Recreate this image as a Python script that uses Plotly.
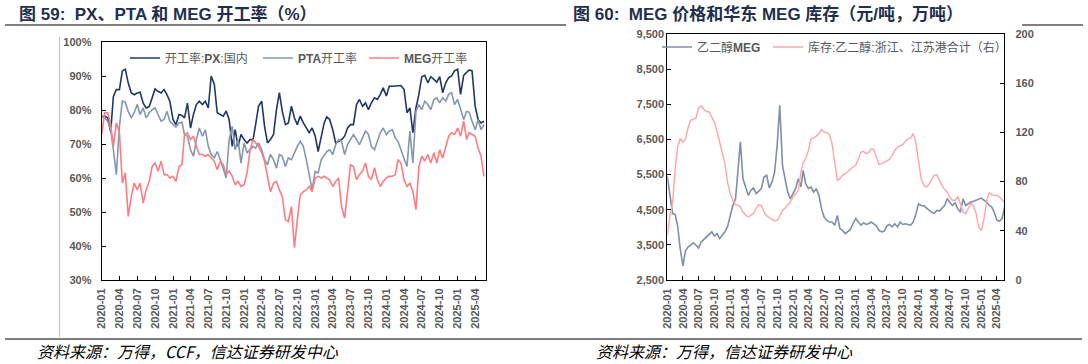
import plotly.graph_objects as go

W, H = 1088, 364

# ---------------- data (semi-monthly readings) ----------------
px_rate = [78, 78.2, 77.7, 73.5, 84, 86, 86, 91.5, 92, 88,
           85, 84.5, 85, 85.2, 82, 80.6, 81, 83.5, 86.2, 85.5,
           85, 86, 84.5, 82.5, 77.2, 75.7, 78.7, 78.4, 77.7, 82,
           74.7, 78.7, 81.6, 82.6, 81.6, 82.6, 80.6, 90, 87.5, 79.2,
           78.7, 78.2, 79.7, 77.2, 69.3, 74.2, 69.3, 72.8, 71.3, 70.3,
           71.3, 71.3, 75.7, 81.1, 82.6, 75.2, 70.3, 71.3, 72.8, 80.1,
           85.1, 79.6, 75.7, 76.2, 81.1, 77.7, 75.7, 78.2, 76.2, 74.7,
           73.3, 74.7, 72.3, 67.8, 72.3, 76.2, 78, 77.2, 74.2, 70.3,
           70.8, 71.3, 72.3, 74.7, 75.7, 75.7, 81.6, 83.1, 81.1, 82.1,
           80.1, 82.1, 83.6, 83.1, 84.6, 86.5, 84.1, 87, 87, 87,
           87.2, 87.2, 86, 79.2, 80.6, 73.3, 80.6, 84.6, 89.8, 90.2,
           88, 89.8, 89, 88.2, 89.8, 85.1, 88, 89.5, 90, 91.5,
           92, 84.6, 90.2, 91, 91.8, 91.5, 81.1, 77.2, 76.2, 76.7]

pta_rate = [78.2, 77.7, 76.7, 74.2, 68.3, 61, 75.2, 82.6, 82.3, 79.6,
            77.7, 79.2, 81.6, 78.7, 80.6, 77.7, 79.2, 80.1, 80.6, 78.7,
            76.7, 77.2, 79.6, 76.7, 75.7, 75, 76.2, 76.4, 72.8, 72.3,
            68.3, 66.4, 71.3, 74.7, 72.3, 74.2, 69.3, 66.9, 65.9, 67.8,
            65.4, 62.4, 60, 71.3, 75.2, 68.3, 71.3, 64.4, 70.3, 67.4,
            68.3, 69.3, 68.8, 70.3, 68.3, 65.4, 63.9, 66.9, 65.4, 62.9,
            66.9, 66.4, 63.4, 65.9, 65.4, 67.4, 69.3, 70.8, 69.3, 65.4,
            60.5, 56.6, 61.9, 61.5, 65.4, 66.9, 67.8, 68.3, 66.9, 69.8,
            71.3, 70.8, 66.9, 69.8, 71.3, 72.8, 71.3, 69.8, 71.8, 73.8,
            72.8, 69.3, 68.3, 70.8, 73.3, 74.7, 72.8, 73.8, 74.2, 71.8,
            70.8, 68.3, 65.4, 63.4, 73.8, 64.4, 79.6, 81.6, 80.1, 82.6,
            81.6, 80.1, 83.1, 83.6, 82.1, 83.6, 82.6, 84.6, 85.1, 81.6,
            83.1, 80.1, 77.2, 79.6, 79.4, 76.7, 74.2, 77.2, 74.2, 75.7]

meg_rate = [72.8, 79.2, 79.2, 75.7, 69.3, 76.2, 73.3, 58.5, 61.5, 48.7,
            54.6, 58.5, 56.5, 58.5, 52.6, 56.5, 59, 63.4, 64.4, 62,
            64.9, 61, 61, 60, 60.5, 59, 63.4, 63.9, 72.8, 73.3,
            71.3, 72.3, 69.3, 66.9, 66.9, 66.4, 66.9, 65.9, 64.9, 62.4,
            64.9, 63.9, 61, 62, 60.5, 58, 59, 57.5, 58, 61.5,
            68.3, 71.3, 70.3, 69.3, 67.4, 64.9, 60.5, 56, 58.5, 59,
            56.5, 54.6, 47.7, 47.2, 51.6, 39.5, 47.7, 55, 56, 56.5,
            57.5, 56, 60, 60.5, 60, 60.5, 60, 59.5, 57.5, 59,
            60, 51.6, 48.2, 55.6, 63.9, 63.4, 59.5, 61, 62, 64.4,
            60.5, 59.5, 63, 59.5, 57.5, 59, 60, 60.5, 60.5, 61,
            65.4, 64.4, 59.5, 57.5, 58.5, 56, 50.7, 63.4, 66.4, 65,
            66.9, 64.4, 67.4, 64.4, 68.3, 65.9, 69.3, 72.3, 73.3, 72.8,
            74.7, 72.3, 76.7, 71.3, 73.3, 72.8, 72.3, 68.8, 66.4, 60.5]

meg_price = [5450, 4900, 4390, 4360, 4050, 3390, 2900, 3340, 3440, 3490,
             3560, 3490, 3410, 3580, 3660, 3720, 3820, 3870, 3750, 3820,
             3680, 3770, 3870, 4010, 4360, 4620, 4810, 5570, 6430, 5380,
             5120, 4910, 5050, 5120, 4960, 5020, 5100, 5430, 5480, 5120,
             5290, 5570, 6330, 7470, 5760, 5380, 5000, 4810, 4960, 5100,
             5380, 5150, 5620, 5240, 5100, 5150, 5000, 5100, 4910, 4530,
             4290, 4200, 4150, 4150, 4060, 4340, 3960, 3910, 3820, 3870,
             3940, 4100, 4250, 4150, 4060, 4130, 4080, 4100, 4150, 4100,
             4040, 3910, 3870, 3890, 4040, 4080, 4010, 4100, 4010, 4150,
             4080, 4100, 4080, 4060, 4150, 4360, 4670, 4620, 4610, 4550,
             4480, 4430, 4390, 4480, 4460, 4530, 4620, 4810, 4720, 4620,
             4700, 4530, 4430, 4810, 4620, 4670, 4720, 4740, 4770, 4810,
             4830, 4770, 4720, 4620, 4580, 4430, 4200, 4170, 4250, 4580]

meg_stock = [36, 52, 63, 90.5, 108, 115, 112, 115, 124, 130,
             130.6, 131.7, 140, 141.5, 138.7, 137, 136.6, 131.7, 128, 121,
             112, 104, 94.6, 79.7, 70, 64.8, 61.2, 60.7, 59.3, 55.3,
             52.6, 51.2, 52.6, 53.9, 58.5, 61.2, 60.7, 55.3, 52, 50.4,
             49.3, 48.2, 48.5, 52, 56.6, 58.5, 61.2, 63.4, 67.5, 70.2,
             72.9, 87.8, 95.4, 98.6, 105.4, 114.9, 115.4, 117, 119, 122.5,
             120.3, 119.8, 118.2, 110.8, 94.6, 81, 82.4, 85.1, 86.4, 88.3,
             90.5, 91.9, 93.2, 98.6, 104, 104.6, 102.7, 103.5, 106.8, 106.2,
             100, 93.8, 94.6, 95.9, 97.3, 98, 101.4, 105.4, 108.1, 109,
             110, 112.7, 114.9, 115.4, 119, 112.2, 97.3, 82.4, 77, 75.6,
             77.5, 81, 85.1, 85.6, 81, 77, 73.7, 71.5, 67.5, 64.8,
             64.8, 67.5, 62.1, 55.3, 53.9, 58.5, 62.1, 60.2, 53.9, 43,
             40.4, 49.9, 64.8, 71, 69.4, 68.8, 68.8, 67.5, 64.8, 62.9]

# semi-monthly date index, 2020-01-01 .. 2025-05-16
dates = [f"{y}-{m:02d}-{d:02d}" for y in range(2020, 2026) for m in range(1, 13) for d in (1, 16)][:len(px_rate)]

left_ticks = [30, 40, 50, 60, 70, 80, 90, 100]
price_ticks = [2500, 3500, 4500, 5500, 6500, 7500, 8500, 9500]
stock_ticks = [0, 40, 80, 120, 160, 200]

names_left = ["开工率:<b>PX</b>:国内", "<b>PTA</b>开工率", "<b>MEG</b>开工率"]
names_right = ["乙二醇<b>MEG</b>", "库存:乙二醇:浙江、江苏港合计（右）"]

# ---------------- style ----------------
C_PX, C_PTA, C_MEG = "#203864", "#8497B0", "#FF7C80"
C_PRICE, C_STOCK = "#7F8FA9", "#FFA5A8"
GRAY = "#595959"
TICKFONT = dict(family="Liberation Sans, Arial, sans-serif", size=11, color=GRAY, weight="bold")
LEGFONT = dict(family="Liberation Sans, Noto Sans CJK SC, sans-serif", size=12, color=GRAY)
CJK = "Noto Sans CJK SC, sans-serif"


def fx(p):
    return p / W


def fy(p):
    return 1 - p / H


L = dict(x0=101.7, x1=485.7, y0=42, y1=280)
R = dict(x0=667.3, x1=1004.3, y0=34, y1=280)

fig = go.Figure()

for ys, col, nm, lg in [(px_rate, C_PX, names_left[0], "legend"),
                        (pta_rate, C_PTA, names_left[1], "legend2"),
                        (meg_rate, C_MEG, names_left[2], "legend3")]:
    fig.add_trace(go.Scatter(x=dates, y=ys, mode="lines", name=nm, legend=lg,
                             line=dict(color=col, width=1.6), xaxis="x", yaxis="y"))

fig.add_trace(go.Scatter(x=dates, y=meg_stock, mode="lines", name=names_right[1], legend="legend5",
                         line=dict(color=C_STOCK, width=1.4), xaxis="x2", yaxis="y3"))
fig.add_trace(go.Scatter(x=dates, y=meg_price, mode="lines", name=names_right[0], legend="legend4",
                         line=dict(color=C_PRICE, width=1.6), xaxis="x2", yaxis="y2"))

xcommon = dict(type="date", tickmode="linear", tick0="2020-01-01", dtick="M3", tickformat="%Y-%m",
               tickangle=-90, ticks="inside", ticklen=4, tickcolor="#000", showline=True,
               linecolor="#000", linewidth=1, mirror=True, showgrid=False, zeroline=False,
               tickfont=TICKFONT, fixedrange=True, automargin=False, ticklabelstandoff=3)
ycommon = dict(ticks="inside", ticklen=4, tickcolor="#000", showline=True, linecolor="#000",
               linewidth=1, showgrid=False, zeroline=False, tickfont=TICKFONT, fixedrange=True,
               automargin=False)

legend_base = dict(orientation="h", xanchor="left", yanchor="middle", bgcolor="rgba(0,0,0,0)",
                   font=LEGFONT, itemwidth=30, borderwidth=0)

fig.update_layout(
    width=W, height=H, autosize=False,
    margin=dict(l=0, r=0, t=0, b=0, pad=0, autoexpand=False),
    paper_bgcolor="white", plot_bgcolor="white",
    xaxis=dict(domain=[fx(L["x0"]), fx(L["x1"])], anchor="y",
               range=["2020-01-01", "2025-05-25"], **xcommon),
    yaxis=dict(domain=[fy(L["y1"]), fy(L["y0"])], anchor="x", range=[30, 100],
               tickmode="array", tickvals=left_ticks, ticktext=[f"{v}%" for v in left_ticks],
               mirror=True, ticklabelstandoff=7, **ycommon),
    xaxis2=dict(domain=[fx(R["x0"]), fx(R["x1"])], anchor="y2",
                range=["2020-01-01", "2025-05-14"], **xcommon),
    yaxis2=dict(domain=[fy(R["y1"]), fy(R["y0"])], anchor="x2", range=[2500, 9500],
                tickmode="array", tickvals=price_ticks, ticktext=[f"{v:,}" for v in price_ticks],
                mirror=True, **ycommon),
    yaxis3=dict(overlaying="y2", side="right", anchor="x2", range=[0, 200],
                tickmode="array", tickvals=stock_ticks, ticktext=[str(v) for v in stock_ticks],
                ticklabelstandoff=8, **ycommon),
    legend=dict(x=fx(125), y=fy(58), **legend_base),
    legend2=dict(x=fx(258), y=fy(58), **legend_base),
    legend3=dict(x=fx(364), y=fy(58), **legend_base),
    legend4=dict(x=fx(657), y=fy(47), **legend_base),
    legend5=dict(x=fx(768), y=fy(47), **legend_base),
    showlegend=True,
)

shapes = [
    dict(type="line", xref="paper", yref="paper", x0=fx(5), x1=fx(566), y0=fy(25), y1=fy(25),
         line=dict(color="#000", width=1.2)),
    dict(type="line", xref="paper", yref="paper", x0=fx(1022), x1=fx(1083), y0=fy(25), y1=fy(25),
         line=dict(color="#000", width=1.2)),
    dict(type="line", xref="paper", yref="paper", x0=fx(5), x1=fx(1082), y0=fy(339), y1=fy(339),
         line=dict(color="#000", width=1.2)),
    dict(type="line", xref="paper", yref="paper", x0=fx(59.5), x1=fx(59.5), y0=fy(37), y1=fy(337),
         line=dict(color="#BFBFBF", width=1)),
]

TITLEFONT = dict(family="Liberation Sans, Noto Sans CJK SC, sans-serif", size=17, color="#1F2F50")
annotations = [
    dict(text="<b>图 59:\u00a0 PX、PTA 和 MEG 开工率（%）</b>", x=fx(17), y=fy(14), xref="paper", yref="paper",
         xanchor="left", yanchor="middle", showarrow=False, font=TITLEFONT),
    dict(text="<b>图 60:\u00a0 MEG 价格和华东 MEG 库存（元/吨，万吨）</b>", x=fx(571), y=fy(14), xref="paper",
         yref="paper", xanchor="left", yanchor="middle", showarrow=False, font=TITLEFONT),
    dict(text="<i>资料来源：万得，CCF，信达证券研发中心</i>", x=fx(35), y=fy(351), xref="paper", yref="paper",
         xanchor="left", yanchor="middle", showarrow=False, font=dict(family=CJK, size=16, color="#000")),
    dict(text="<i>资料来源：万得，信达证券研发中心</i>", x=fx(594), y=fy(351), xref="paper", yref="paper",
         xanchor="left", yanchor="middle", showarrow=False, font=dict(family=CJK, size=16, color="#000")),
]

fig.update_layout(shapes=shapes, annotations=annotations)

fig.write_html("out.html", config={"displayModeBar": False, "staticPlot": True},
               post_script="document.body.style.margin='0';document.body.style.overflow='hidden';")
